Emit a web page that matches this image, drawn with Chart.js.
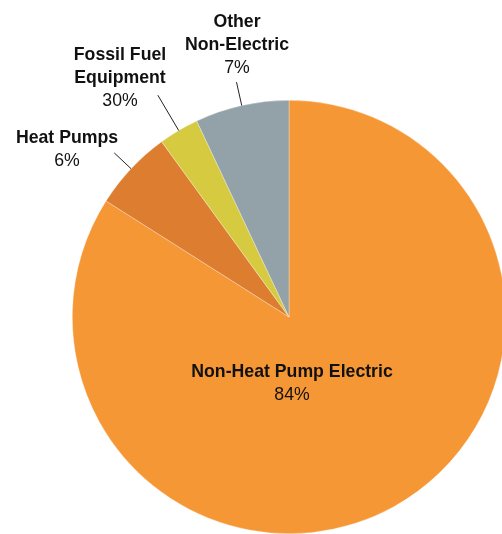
<!DOCTYPE html>
<html>
<head>
<meta charset="utf-8">
<script src="https://cdn.jsdelivr.net/npm/chart.js@4.4.1/dist/chart.umd.min.js"></script>
<style>
html,body{margin:0;padding:0;background:#fff;overflow:hidden;}
#wrap{position:absolute;left:0;top:0;width:540px;height:560px;}
</style>
</head>
<body>
<div id="wrap"><canvas id="chart" width="540" height="560"></canvas></div>
<script>
// heating equipment shares, clockwise from 12 o'clock
const categories=["Non-Heat Pump Electric","Heat Pumps",["Fossil Fuel","Equipment"],["Other","Non-Electric"]];
const shares=[84,6,3,7];
const shareText=["84%","6%","30%","7%"];
const colors=["#f69735","#dc7d30","#d6cb40","#93a2a9"];

// where each label block sits (centre x, first baseline) and how long its leader is
const labelSpots=[[292,377],[67,143],[120,60],[237,27]];
const leaderLen=[0,23,41,24];
const lineGap=23;
const fontFamily='"Liberation Sans", Arial, Helvetica, sans-serif';

const labelPlugin={
id:"sliceLabels",
afterDatasetsDraw(chart){
const ctx=chart.ctx;
const arcs=chart.getDatasetMeta(0).data;
ctx.save();
arcs.forEach((arc,i)=>{
const p=arc.getProps(["x","y","startAngle","endAngle","outerRadius"],true);
const mid=(p.startAngle+p.endAngle)/2;
if(leaderLen[i]>0){
const r1=p.outerRadius,r2=p.outerRadius+leaderLen[i];
ctx.beginPath();
ctx.moveTo(p.x+Math.cos(mid)*r2,p.y+Math.sin(mid)*r2);
ctx.lineTo(p.x+Math.cos(mid)*r1,p.y+Math.sin(mid)*r1);
ctx.strokeStyle="#222";
ctx.lineWidth=1;
ctx.stroke();
}
let lines=[].concat(categories[i]);
let x=labelSpots[i][0],y=labelSpots[i][1];
ctx.fillStyle="#111";
ctx.textAlign="center";
ctx.textBaseline="alphabetic";
ctx.font="bold 17.7px "+fontFamily;
lines.forEach(t=>{
ctx.fillText(t,x,y);
y+=lineGap;
});
ctx.font="17.7px "+fontFamily;
ctx.fillText(shareText[i],x,y);
});
ctx.restore();
}
};

new Chart(document.getElementById("chart"),{
type:"pie",
data:{
labels:categories,
datasets:[{
data:shares,
backgroundColor:colors,
borderColor:"rgba(255,255,255,0.5)",
borderWidth:0.6
}]
},
options:{
responsive:false,
animation:false,
layout:{padding:{left:72,top:100,right:34,bottom:26}},
plugins:{
legend:{display:false},
tooltip:{enabled:false}
}
},
plugins:[labelPlugin]
});
</script>
</body>
</html>
